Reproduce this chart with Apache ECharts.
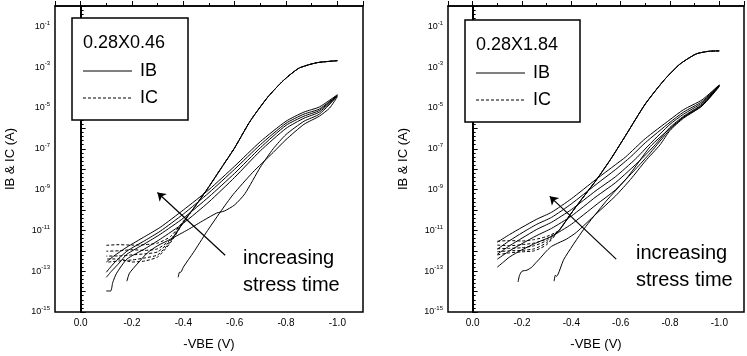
<!DOCTYPE html>
<html>
<head>
<meta charset="utf-8">
<title>IB & IC vs -VBE</title>
<script src="https://cdn.jsdelivr.net/npm/echarts@6/dist/echarts.min.js"></script>
<style>
  html, body { margin: 0; padding: 0; background: #fff; }
  #chart { width: 747px; height: 356px; }
</style>
</head>
<body>
<div id="chart"></div>
<script>
// x = VBE (V), y = log10 of current (A)
var xTickLabels = ['0.0', '-0.2', '-0.4', '-0.6', '-0.8', '-1.0'];
var yLabelExps = [-15, -13, -11, -9, -7, -5, -3, -1];

// ---- left device 0.28X0.46 ----
var leftICHigh = [[-0.45,-9.75],[-0.5,-8.85],[-0.55,-7.9],[-0.6,-6.95],[-0.66,-5.65],[-0.73,-4.45],[-0.79,-3.65],[-0.85,-3.05],[-0.92,-2.78],[-1.0,-2.68]];
var leftIC1 = [[-0.1,-11.73],[-0.15,-11.7],[-0.2,-11.72],[-0.25,-11.7],[-0.3,-11.62],[-0.35,-11.3],[-0.4,-10.55]];
var leftIC2 = [[-0.1,-12.02],[-0.15,-12.0],[-0.2,-11.95],[-0.25,-11.98],[-0.3,-11.9],[-0.35,-11.45],[-0.4,-10.6]];
var leftIC3 = [[-0.1,-12.26],[-0.15,-12.25],[-0.2,-12.2],[-0.25,-12.15],[-0.3,-12.05],[-0.35,-11.5],[-0.4,-10.6]];
var leftIC4 = [[-0.1,-12.56],[-0.15,-12.5],[-0.2,-12.45],[-0.25,-12.35],[-0.3,-12.2],[-0.35,-11.55],[-0.4,-10.6]];
var leftIC5 = [[-0.1,-12.4],[-0.15,-12.4],[-0.2,-12.55],[-0.25,-12.5],[-0.3,-12.3],[-0.35,-11.6],[-0.4,-10.62]];

var leftIB6 = [[-0.1,-12.55],[-0.13,-12.25],[-0.18,-11.82],[-0.25,-11.3],[-0.31,-10.85],[-0.4,-10.0],[-0.5,-9.0],[-0.6,-7.85],[-0.7,-6.65],[-0.8,-5.65],[-0.87,-5.2],[-0.93,-4.95],[-1.0,-4.35]];
var leftIB5 = [[-0.1,-13.05],[-0.13,-12.6],[-0.18,-12.02],[-0.25,-11.5],[-0.31,-11.04],[-0.4,-10.2],[-0.5,-9.15],[-0.6,-8.0],[-0.7,-6.8],[-0.8,-5.75],[-0.87,-5.3],[-0.93,-5.05],[-1.0,-4.37]];
var leftIB4 = [[-0.1,-13.3],[-0.12,-13.0],[-0.15,-12.6],[-0.18,-12.17],[-0.25,-11.65],[-0.31,-11.19],[-0.4,-10.4],[-0.5,-9.35],[-0.6,-8.2],[-0.7,-6.95],[-0.8,-5.85],[-0.87,-5.4],[-0.93,-5.12],[-1.0,-4.38]];
var leftIB3 = [[-0.1,-13.97],[-0.117,-13.97],[-0.125,-13.55],[-0.14,-13.1],[-0.18,-12.41],[-0.25,-11.9],[-0.31,-11.43],[-0.4,-10.65],[-0.5,-9.6],[-0.6,-8.4],[-0.7,-7.1],[-0.8,-6.0],[-0.87,-5.5],[-0.93,-5.2],[-1.0,-4.4]];
var leftIB2 = [[-0.18,-13.49],[-0.19,-13.1],[-0.22,-12.65],[-0.26,-12.1],[-0.3,-11.75],[-0.35,-11.43],[-0.42,-10.95],[-0.48,-10.5],[-0.53,-10.15],[-0.56,-10.05],[-0.6,-9.75],[-0.64,-9.2],[-0.7,-7.9],[-0.75,-7.0],[-0.8,-6.3],[-0.87,-5.65],[-0.93,-5.3],[-1.0,-4.42]];
var leftIB1 = [[-0.38,-13.3],[-0.385,-13.05],[-0.39,-13.05],[-0.4,-12.8],[-0.44,-12.07],[-0.49,-11.09],[-0.544,-10.1],[-0.594,-9.24],[-0.67,-8.16],[-0.75,-7.18],[-0.8,-6.55],[-0.87,-5.8],[-0.93,-5.4],[-0.97,-5.0],[-1.0,-4.45]];
var leftArrow = [[-0.563,-12.22],[-0.299,-9.14]];

// ---- right device 0.28X1.84 ----
var rightICHigh = [[-0.35,-11.0],[-0.4,-10.15],[-0.44,-9.5],[-0.5,-8.55],[-0.56,-7.5],[-0.62,-6.35],[-0.7,-4.8],[-0.777,-3.62],[-0.84,-2.85],[-0.906,-2.35],[-0.957,-2.22],[-1.0,-2.2]];
var rightIC1 = [[-0.1,-11.53],[-0.15,-11.5],[-0.2,-11.52],[-0.25,-11.45],[-0.3,-11.3]];
var rightIC2 = [[-0.1,-11.72],[-0.15,-11.75],[-0.2,-11.7],[-0.25,-11.62],[-0.3,-11.42]];
var rightIC3 = [[-0.1,-11.9],[-0.15,-11.88],[-0.2,-11.85],[-0.25,-11.75],[-0.3,-11.5]];
var rightIC4 = [[-0.1,-12.05],[-0.15,-12.0],[-0.2,-11.98],[-0.25,-11.9],[-0.3,-11.6]];
var rightIC5 = [[-0.1,-12.2],[-0.15,-12.1],[-0.2,-12.05],[-0.25,-12.0],[-0.3,-11.7]];

var rightIB7 = [[-0.1,-11.58],[-0.15,-11.2],[-0.2,-10.85],[-0.26,-10.45],[-0.32,-10.11],[-0.4,-9.45],[-0.5,-8.5],[-0.58,-7.77],[-0.62,-7.4],[-0.7,-6.5],[-0.8,-5.57],[-0.855,-5.08],[-0.93,-4.6],[-1.0,-3.86]];
var rightIB6 = [[-0.1,-11.92],[-0.15,-11.5],[-0.2,-11.12],[-0.26,-10.7],[-0.32,-10.36],[-0.4,-9.7],[-0.5,-8.75],[-0.58,-8.01],[-0.64,-7.4],[-0.7,-6.7],[-0.8,-5.7],[-0.855,-5.2],[-0.93,-4.68],[-1.0,-3.87]];
var rightIB5 = [[-0.1,-12.17],[-0.15,-11.75],[-0.2,-11.38],[-0.26,-10.95],[-0.32,-10.6],[-0.4,-9.98],[-0.5,-9.05],[-0.58,-8.36],[-0.66,-7.5],[-0.72,-6.75],[-0.8,-5.8],[-0.855,-5.3],[-0.93,-4.75],[-1.0,-3.88]];
var rightIB4 = [[-0.1,-12.41],[-0.15,-12.0],[-0.2,-11.65],[-0.26,-11.25],[-0.32,-10.9],[-0.4,-10.3],[-0.5,-9.35],[-0.58,-8.65],[-0.68,-7.55],[-0.74,-6.8],[-0.8,-5.95],[-0.855,-5.4],[-0.93,-4.82],[-1.0,-3.9]];
var rightIB3 = [[-0.1,-12.8],[-0.12,-12.6],[-0.15,-12.3],[-0.2,-11.95],[-0.26,-11.6],[-0.32,-11.29],[-0.4,-10.7],[-0.5,-9.75],[-0.58,-9.0],[-0.66,-8.0],[-0.72,-7.2],[-0.8,-6.05],[-0.855,-5.45],[-0.93,-4.85],[-1.0,-3.91]];
var rightIB2 = [[-0.184,-13.53],[-0.19,-13.2],[-0.2,-13.0],[-0.22,-12.95],[-0.24,-12.8],[-0.255,-12.6],[-0.27,-12.41],[-0.3,-12.0],[-0.32,-11.78],[-0.35,-11.6],[-0.38,-11.43],[-0.42,-11.1],[-0.5,-10.2],[-0.58,-9.3],[-0.64,-8.5],[-0.7,-7.6],[-0.76,-6.8],[-0.8,-6.1],[-0.855,-5.5],[-0.93,-4.9],[-1.0,-3.92]];
var rightIB1 = [[-0.33,-13.49],[-0.335,-13.2],[-0.34,-13.25],[-0.37,-12.41],[-0.45,-10.95],[-0.54,-9.58],[-0.63,-8.36],[-0.72,-6.89],[-0.8,-6.0],[-0.855,-5.45],[-0.93,-4.9],[-1.0,-3.95]];
var rightArrow = [[-0.582,-12.41],[-0.3125,-9.33]];

var FONT = '"Liberation Sans", Arial, sans-serif';

function xAxisCfg(gi) {
    return {
        type: 'value', gridIndex: gi, min: -1.1, max: 0.1, inverse: true, splitNumber: 6,
        name: '-VBE (V)', nameLocation: 'middle', nameGap: 26,
        nameTextStyle: { color: '#000', fontSize: 13, fontFamily: FONT },
        axisLine: { lineStyle: { color: '#000', width: 1.5 } },
        axisTick: { inside: true, length: 5, lineStyle: { color: '#000' } },
        minorTick: { show: true, splitNumber: 2, length: 3, lineStyle: { color: '#000' } },
        splitLine: { show: false },
        axisLabel: {
            color: '#000', fontSize: 10, fontFamily: FONT, margin: 6,
            formatter: function (v) {
                var s = v.toFixed(1);
                if (s === '-0.0') s = '0.0';
                return xTickLabels.indexOf(s) >= 0 ? s : '';
            }
        }
    };
}

function yAxisCfg(gi) {
    return {
        type: 'value', gridIndex: gi, min: -15, max: 0, interval: 1,
        name: 'IB & IC (A)', nameLocation: 'middle', nameGap: 38,
        nameTextStyle: { color: '#000', fontSize: 13, fontFamily: FONT },
        axisLine: { show: true, lineStyle: { color: '#000', width: 2 } },
        axisTick: { inside: true, length: 5, lineStyle: { color: '#000' } },
        minorTick: { show: true, splitNumber: 5, length: 3, lineStyle: { color: '#000' } },
        splitLine: { show: false },
        axisLabel: {
            margin: 5,
            formatter: function (v) {
                return yLabelExps.indexOf(v) >= 0 ? '{b|10}{s|' + v + '}' : '';
            },
            rich: {
                b: { color: '#000', fontSize: 9, fontFamily: FONT },
                s: { color: '#000', fontSize: 6, fontFamily: FONT, padding: [0, 0, 7, 0] }
            }
        }
    };
}

function line(name, data, gi, dashed, offset) {
    return {
        name: name, type: 'line', xAxisIndex: gi, yAxisIndex: gi,
        data: data, symbol: 'none', smooth: 0.2, silent: true,
        lineStyle: { color: '#000', width: 1, type: dashed ? [3, 2] : 'solid', dashOffset: offset || 0 }
    };
}

function arrow(coords) {
    return {
        silent: true, symbol: ['none', 'arrow'], symbolSize: 8,
        lineStyle: { color: '#000', width: 1.2, type: 'solid' },
        label: { show: false },
        data: [[{ coord: coords[0] }, { coord: coords[1] }]]
    };
}

var series = [];
[leftIC1, leftIC2, leftIC3, leftIC4, leftIC5].forEach(function (d, i) {
    series.push(line('IC', d.concat(leftICHigh), 0, true, i));
});
[leftIB1, leftIB2, leftIB3, leftIB4, leftIB5, leftIB6].forEach(function (d) {
    series.push(line('IB', d, 0, false));
});
series[series.length - 1].markLine = arrow(leftArrow);

[rightIC1, rightIC2, rightIC3, rightIC4, rightIC5].forEach(function (d) {
    series.push(line('IC', d.concat(rightICHigh), 1, true, 0));
});
[rightIB1, rightIB2, rightIB3, rightIB4, rightIB5, rightIB6, rightIB7].forEach(function (d) {
    series.push(line('IB', d, 1, false));
});
series[series.length - 1].markLine = arrow(rightArrow);

function legendBox(x, y, w, h, title) {
    var t = { fill: '#000', fontSize: 18, fontFamily: FONT, verticalAlign: 'middle' };
    return [
        { type: 'rect', shape: { x: x, y: y, width: w, height: h }, style: { fill: '#fff', stroke: '#000', lineWidth: 1.5 }, z: 10 },
        { type: 'text', x: x + 11, y: y + 25, style: Object.assign({ text: title }, t), z: 11 },
        { type: 'line', shape: { x1: x + 11, y1: y + 53, x2: x + 60, y2: y + 53 }, style: { stroke: '#000', lineWidth: 1 }, z: 11 },
        { type: 'text', x: x + 68, y: y + 53, style: Object.assign({ text: 'IB' }, t), z: 11 },
        { type: 'line', shape: { x1: x + 11, y1: y + 80, x2: x + 60, y2: y + 80 }, style: { stroke: '#000', lineWidth: 1, lineDash: [3, 2] }, z: 11 },
        { type: 'text', x: x + 68, y: y + 80, style: Object.assign({ text: 'IC' }, t), z: 11 }
    ];
}

function note(x, y) {
    var t = { fill: '#000', fontSize: 20, fontFamily: FONT, verticalAlign: 'middle' };
    return [
        { type: 'text', x: x, y: y, style: Object.assign({ text: 'increasing' }, t), z: 11 },
        { type: 'text', x: x, y: y + 27, style: Object.assign({ text: 'stress time' }, t), z: 11 }
    ];
}

var chart = echarts.init(document.getElementById('chart'), null, { renderer: 'canvas' });
chart.setOption({
    animation: false,
    backgroundColor: '#fff',
    grid: [
        { left: 55, top: 6, width: 308, height: 307, show: true, borderColor: '#000', borderWidth: 1.5, backgroundColor: 'transparent' },
        { left: 448, top: 6, width: 307, height: 307, show: true, borderColor: '#000', borderWidth: 1.5, backgroundColor: 'transparent' }
    ],
    xAxis: [xAxisCfg(0), xAxisCfg(1)],
    yAxis: [yAxisCfg(0), yAxisCfg(1)],
    series: series,
    graphic: legendBox(72, 18, 116, 102, '0.28X0.46')
        .concat(legendBox(465, 20, 115, 102, '0.28X1.84'))
        .concat(note(243, 258))
        .concat(note(636, 253))
});
</script>
</body>
</html>
